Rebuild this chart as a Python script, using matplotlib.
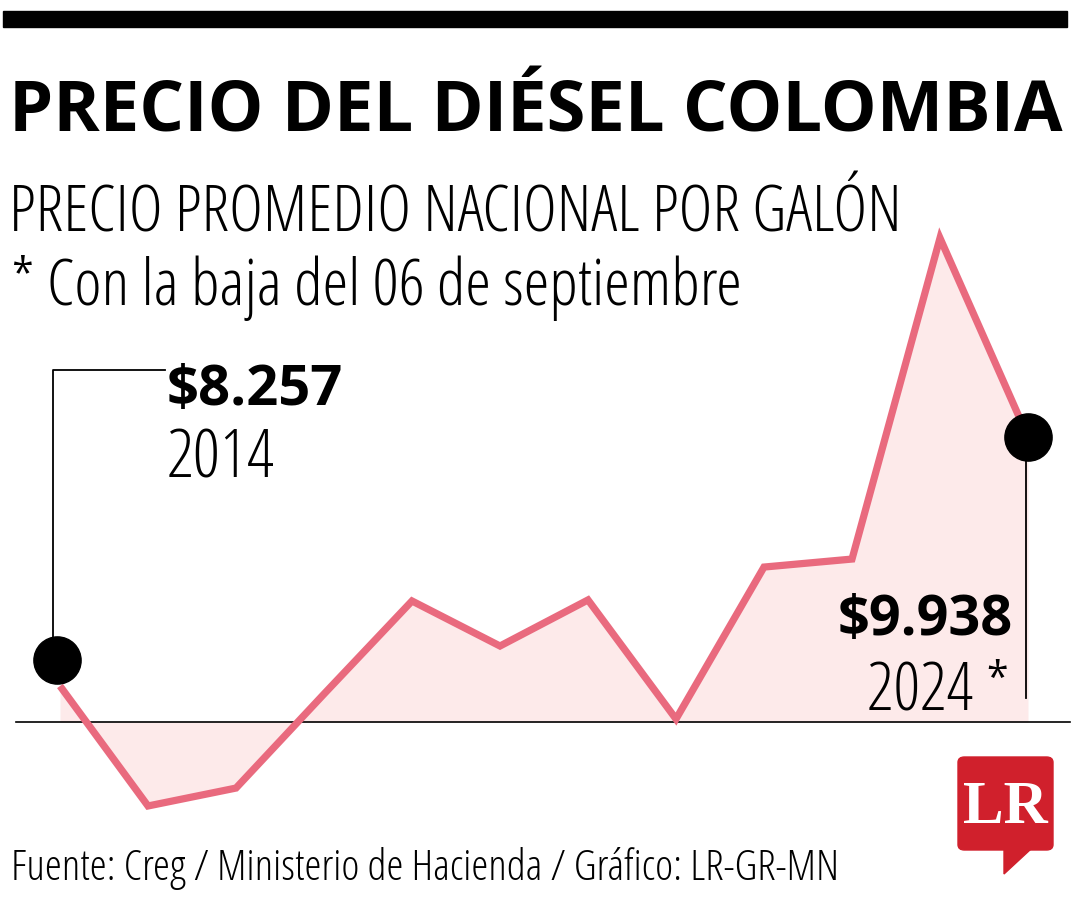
import matplotlib
matplotlib.use("Agg")
import matplotlib.pyplot as plt
import matplotlib.transforms as mtransforms
from matplotlib.patches import Rectangle, FancyBboxPatch, Polygon

# Average national diesel price per gallon (COP)
periods = ["2014", "2015", "2016", "2017", "2018", "2019", "2020",
           "2021", "2022", "2023", "2024", "2024*"]
prices = [8257, 7447, 7568, 8203, 8831, 8527, 8838,
          8034, 9060, 9114, 11281, 9938]
baseline = 8014

TITLE = "PRECIO DEL DIÉSEL COLOMBIA"
SUB1 = "PRECIO PROMEDIO NACIONAL POR GALÓN"
SUB2 = "* Con la baja del 06 de septiembre"
FIRST_VAL, FIRST_LAB = "$8.257", "2014"
LAST_VAL, LAST_LAB = "$9.938", "2024 *"
SOURCE = "Fuente: Creg / Ministerio de Hacienda / Gráfico: LR-GR-MN"

LINE = "#e96a7e"
FILL = "#fdeaea"
W, H = 1080, 900

COND = dict(family=["Open Sans", "Roboto Condensed", "DejaVu Sans"],
            fontstretch="condensed")
SERIF = ["Liberation Serif", "DejaVu Serif"]

fig = plt.figure(figsize=(W / 100, H / 100), dpi=100)
fig.patch.set_facecolor("white")
ax = fig.add_axes([0, 0, 1, 1])
ax.axis("off")
renderer = fig.canvas.get_renderer()

# x index 0 sits at px 60, step 88 px; y scale ~6.751 COP per px
x = list(range(len(prices)))
ax.set_xlim(-60 / 88, (W - 60) / 88)
ax.set_ylim(8257 - (H - 686) * 6.751, 8257 + 686 * 6.751)


def px(xp, yp):
    return xp / W, 1 - yp / H


def fit_text(xp, yp, s, width, **kw):
    t = fig.text(*px(xp, yp), s, fontsize=40, va="baseline", **COND, **kw)
    w = t.get_window_extent(renderer).width
    t.set_fontsize(40 * width / w)
    return t


# top black bar
fig.patches.append(Rectangle(px(3, 27), 1064 / W, 16 / H, color="black",
                             transform=fig.transFigure, zorder=5))

# baseline + filled area + line
ax.axhline(baseline, xmin=16 / W, xmax=1070 / W, color="black", lw=1.2, zorder=2)
ax.fill_between(x, prices, baseline, color=FILL, lw=0, zorder=1)
ax.plot(x, prices, color=LINE, lw=5.2, solid_joinstyle="miter",
        solid_capstyle="butt", zorder=3)

# end markers (first one nudged up like the original)
up = mtransforms.ScaledTranslation(-3 / 100, 26 / 100, fig.dpi_scale_trans)
ax.plot(x[0], prices[0], "o", color="black", ms=34, zorder=6,
        transform=ax.transData + up)
ax.plot(x[-1], prices[-1], "o", color="black", ms=34, zorder=6)

# connector lines
ax.plot([53 / W, 53 / W, 165 / W], [1 - 640 / H, 1 - 370 / H, 1 - 370 / H],
        transform=fig.transFigure, color="black", lw=1.3, zorder=4)
ax.plot([1026 / W, 1026 / W], [1 - 460 / H, 1 - 698 / H],
        transform=fig.transFigure, color="black", lw=1.3, zorder=4)

# texts
fit_text(9, 132, TITLE, 1052, fontweight="bold")
fit_text(9, 232, SUB1, 890, fontweight="light")
fit_text(11, 305, SUB2, 730, fontweight="light")
fit_text(167, 405, FIRST_VAL, 176, fontweight="bold")
fit_text(167, 478, FIRST_LAB, 108, fontweight="light")
fit_text(838, 635, LAST_VAL, 175, fontweight="bold")
fit_text(867, 710, LAST_LAB, 143, fontweight="light")
fit_text(11, 880, SOURCE, 828, fontweight="light")

# LR logo
logo_red = "#d0202c"
fig.patches.append(FancyBboxPatch(px(958, 850), 95 / W, 93 / H,
                                  boxstyle="round,pad=0,rounding_size=0.006",
                                  color=logo_red, transform=fig.transFigure,
                                  zorder=5))
fig.patches.append(Polygon([px(1004, 849), px(1004, 874), px(1031, 849)],
                           closed=True, color=logo_red,
                           transform=fig.transFigure, zorder=5))
fig.text(*px(1005, 823), "LR", fontsize=44, fontweight="bold",
         family=SERIF, color="white", ha="center", va="baseline", zorder=6)

fig.savefig("out.png", dpi=100, facecolor="white")
